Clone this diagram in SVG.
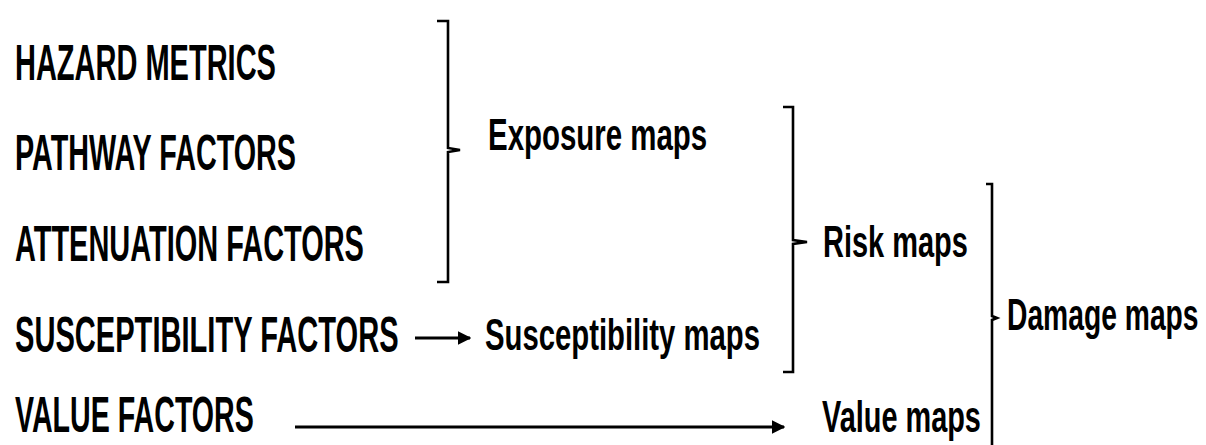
<svg xmlns="http://www.w3.org/2000/svg" width="1206" height="445" viewBox="0 0 1206 445">
  <style>
    .lbl { font-family: "Liberation Sans", Arial, sans-serif; font-weight: bold; fill: #000; }
    .cap { font-size: 50px; }
    .low { font-size: 45px; }
    .br { fill: none; stroke: #000; stroke-width: 2.6; stroke-linejoin: miter; }
    .ar { fill: none; stroke: #000; stroke-width: 3; }
  </style>
  <defs>
    <marker id="head" viewBox="0 0 10 10" refX="9" refY="5" markerWidth="4.5" markerHeight="4.5" markerUnits="strokeWidth" orient="auto">
      <path d="M0,0 L10,5 L0,10 z" fill="#000"/>
    </marker>
  </defs>
  <rect width="1206" height="445" fill="#fff"/>

  <!-- input factors (condensed bold caps) -->
  <g id="hazard-metrics">
    <text class="lbl cap" transform="translate(15,80) scale(0.58,1)">HAZARD METRICS</text>
  </g>
  <g id="pathway-factors">
    <text class="lbl cap" transform="translate(15,170) scale(0.575,1)">PATHWAY FACTORS</text>
  </g>
  <g id="attenuation-factors">
    <text class="lbl cap" transform="translate(15,261) scale(0.579,1)">ATTENUATION FACTORS</text>
  </g>
  <g id="susceptibility-factors">
    <text class="lbl cap" transform="translate(15,352) scale(0.582,1)">SUSCEPTIBILITY FACTORS</text>
  </g>
  <g id="value-factors">
    <text class="lbl cap" transform="translate(15,432) scale(0.572,1)">VALUE FACTORS</text>
  </g>

  <!-- derived maps -->
  <g id="exposure-maps">
    <text class="lbl low" transform="translate(488,150) scale(0.654,1)">Exposure maps</text>
  </g>
  <g id="susceptibility-maps">
    <text class="lbl low" transform="translate(485,350) scale(0.651,1)">Susceptibility maps</text>
  </g>
  <g id="risk-maps">
    <text class="lbl low" transform="translate(823,257) scale(0.644,1)">Risk maps</text>
  </g>
  <g id="value-maps">
    <text class="lbl low" transform="translate(822,432) scale(0.642,1)">Value maps</text>
  </g>
  <g id="damage-maps">
    <text class="lbl low" transform="translate(1007,330) scale(0.628,1)">Damage maps</text>
  </g>

  <g id="connectors">
    <!-- brackets -->
    <path class="br" d="M437,21 L448,21 L448,148 L460,150 L448,152 L448,282 L437,282"/>
    <path class="br" d="M783,107 L793,107 L793,240 L807,242 L793,244 L793,372 L783,372"/>
    <path class="br" d="M986,184 L992,184 L992,316 L997,318 L992,320 L992,445"/>
    <!-- arrows -->
    <line class="ar" x1="415" y1="338" x2="470" y2="338" marker-end="url(#head)"/>
    <line class="ar" x1="295" y1="427" x2="784" y2="427" marker-end="url(#head)"/>
  </g>
</svg>
